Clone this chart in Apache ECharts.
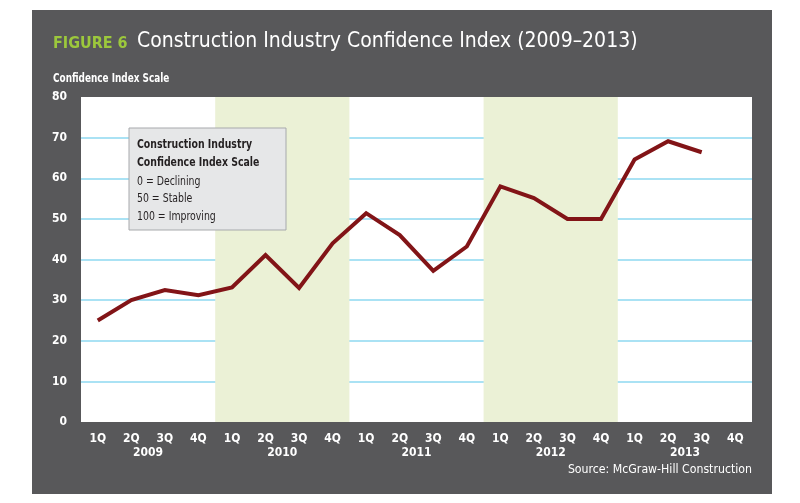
<!DOCTYPE html>
<html>
<head>
<meta charset="utf-8">
<script src="https://cdn.jsdelivr.net/npm/echarts@6/dist/echarts.min.js"></script>
<style>
html,body{margin:0;padding:0;background:#fff;width:800px;height:503px;overflow:hidden;}
#c{position:absolute;left:32px;top:10px;width:740px;height:484px;}
</style>
</head>
<body>
<div id="c"></div>
<script>
const quarters = ['1Q','2Q','3Q','4Q','1Q','2Q','3Q','4Q','1Q','2Q','3Q','4Q','1Q','2Q','3Q','4Q','1Q','2Q','3Q','4Q'];
const years = ['2009','2010','2011','2012','2013'];
const confidence = [25,30,32.5,31.2,33.1,41.1,33,44,51.4,46,37.2,43.2,58,55.1,50,50,64.6,69.1,66.4,null];
const yTicks = {min:0, max:80, interval:10};
const legendLines = ['Construction Industry','Confidence Index Scale','0 = Declining','50 = Stable','100 = Improving'];

const FONT = "'DejaVu Sans Condensed','Liberation Sans Narrow','Roboto',sans-serif";
const chart = echarts.init(document.getElementById('c'), null, {renderer:'canvas'});

const graphics = [{
  type:'rect', z:100, shape:{x:97,y:118,width:157,height:102},
  style:{fill:'#e6e7e8',stroke:'#a7a9ac',lineWidth:1}
}];
const lineY = [135,153,172,189,207];
legendLines.forEach((t,i)=>{
  graphics.push({type:'text', z:101, x:105, y:lineY[i], scaleX:0.8, style:{text:t, fill:'#231f20',
    font:(i<2?'bold ':'')+'13px '+FONT, textVerticalAlign:'middle'}});
});
graphics.push(
  {type:'text', z:101, x:21, y:34, style:{text:'FIGURE 6', fill:'#9cc83c', font:'bold 16px '+FONT, textVerticalAlign:'middle'}},
  {type:'text', z:101, x:105, y:32, style:{text:'Construction Industry Confidence Index (2009\u20132013)', fill:'#fff', font:'21px '+FONT, textVerticalAlign:'middle'}},
  {type:'text', z:101, x:21, y:69, scaleX:0.76, style:{text:'Confidence Index Scale', fill:'#fff', font:'bold 13px '+FONT, textVerticalAlign:'middle'}},
  {type:'text', z:101, x:720, y:460, scaleX:0.94, style:{text:'Source: McGraw-Hill Construction', fill:'#fff', font:'13px '+FONT, textAlign:'right', textVerticalAlign:'middle'}}
);

chart.setOption({
  backgroundColor:'#58585a',
  animation:false,
  grid:{left:49,right:20,top:87,bottom:72,show:true,backgroundColor:'#ffffff',borderWidth:0},
  xAxis:[{
    type:'category', data:quarters, boundaryGap:true,
    axisLine:{show:false}, axisTick:{show:false},
    axisLabel:{color:'#fff',fontWeight:'bold',fontSize:12,fontFamily:FONT,margin:11}
  },{
    type:'category', data:years, boundaryGap:true, position:'bottom', offset:0,
    axisLine:{show:false}, axisTick:{show:false},
    axisLabel:{color:'#fff',fontWeight:'bold',fontSize:12,fontFamily:FONT,margin:25},
    splitArea:{show:true, areaStyle:{color:['rgba(255,255,255,0)','#ebf1d6']}}
  }],
  yAxis:{
    type:'value', min:yTicks.min, max:yTicks.max, interval:yTicks.interval,
    axisLine:{show:false}, axisTick:{show:false},
    axisLabel:{color:'#fff',fontWeight:'bold',fontSize:12,fontFamily:FONT,margin:14},
    splitLine:{show:true, showMinLine:false, showMaxLine:false, lineStyle:{color:'#8ed8f0',width:1.5}}
  },
  series:[{
    type:'line', data:confidence, xAxisIndex:0, yAxisIndex:0,
    showSymbol:false, symbol:'none', connectNulls:false,
    lineStyle:{color:'#821417',width:4, join:'miter'}, z:5
  }],
  graphic:graphics
});
</script>
</body>
</html>
